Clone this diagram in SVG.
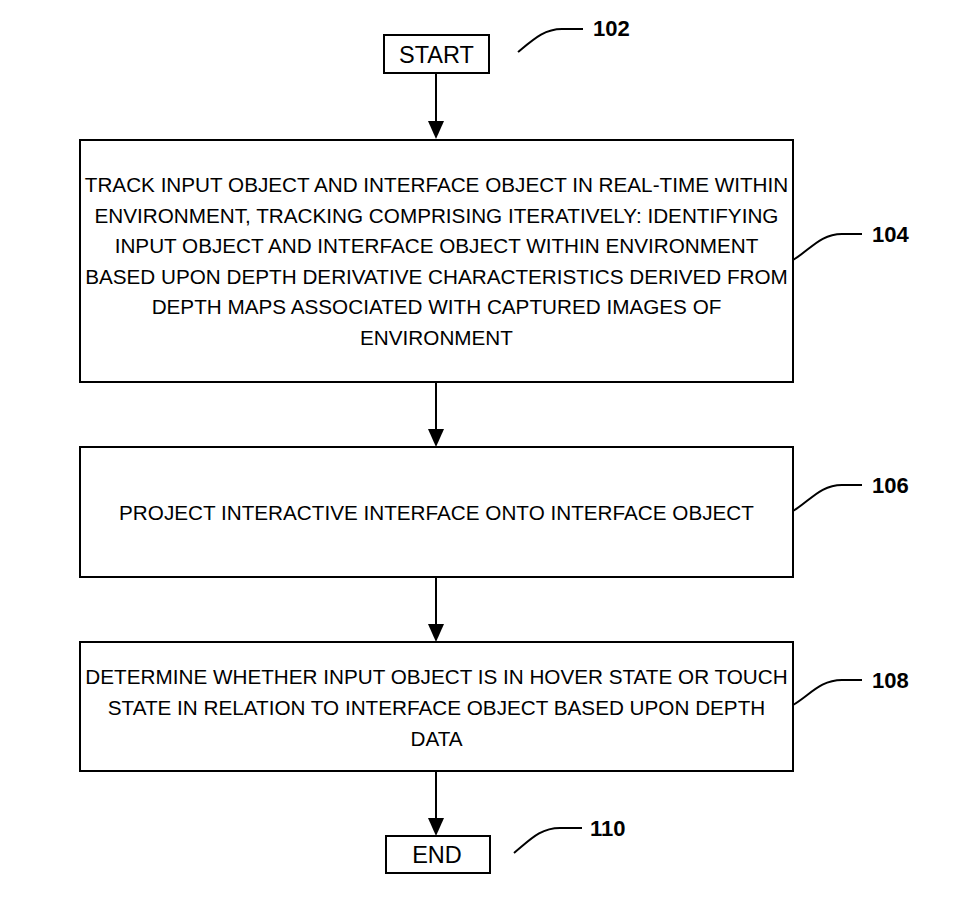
<svg xmlns="http://www.w3.org/2000/svg" width="961" height="915" viewBox="0 0 961 915">
<defs>
<style>
.box{fill:#fff;stroke:#000;stroke-width:2}
.t{font-family:"Liberation Sans",Arial,sans-serif;font-size:20.7px;fill:#000;text-anchor:middle}
.term{font-family:"Liberation Sans",Arial,sans-serif;font-size:23.5px;fill:#000;text-anchor:middle}
.lbl{font-family:"Liberation Sans",Arial,sans-serif;font-size:22px;font-weight:bold;fill:#000}
.lead{fill:none;stroke:#000;stroke-width:2}
.conn{stroke:#000;stroke-width:2;fill:none}
</style>
</defs>
<rect width="961" height="915" fill="#fff"/>
<g id="connectors">
<line class="conn" x1="436" y1="73" x2="436" y2="122"/>
<path d="M428,121 L444,121 L436,139 Z"/>
<line class="conn" x1="436" y1="382" x2="436" y2="430"/>
<path d="M428,429 L444,429 L436,447 Z"/>
<line class="conn" x1="436" y1="577" x2="436" y2="625"/>
<path d="M428,624 L444,624 L436,642 Z"/>
<line class="conn" x1="436" y1="771" x2="436" y2="819"/>
<path d="M428,818 L444,818 L436,836 Z"/>
</g>
<g id="n102">
<rect class="box" x="384" y="35" width="105" height="38"/>
<text class="term" x="436.5" y="63">START</text>
<path class="lead" d="M518,52 C535,38 545,29 562,29 L583,29"/>
<text class="lbl" x="593" y="36">102</text>
</g>
<g id="n104">
<rect class="box" x="80" y="140" width="713" height="242"/>
<text class="t" x="436.5" y="192">TRACK INPUT OBJECT AND INTERFACE OBJECT IN REAL-TIME WITHIN</text>
<text class="t" x="436.5" y="223">ENVIRONMENT, TRACKING COMPRISING ITERATIVELY: IDENTIFYING</text>
<text class="t" x="436.5" y="253">INPUT OBJECT AND INTERFACE OBJECT WITHIN ENVIRONMENT</text>
<text class="t" x="436.5" y="284">BASED UPON DEPTH DERIVATIVE CHARACTERISTICS DERIVED FROM</text>
<text class="t" x="436.5" y="314">DEPTH MAPS ASSOCIATED WITH CAPTURED IMAGES OF</text>
<text class="t" x="436.5" y="345">ENVIRONMENT</text>
<path class="lead" d="M793,260 C810,250 820,234 842,234 L862,234"/>
<text class="lbl" x="872" y="242">104</text>
</g>
<g id="n106">
<rect class="box" x="80" y="447" width="713" height="130"/>
<text class="t" x="436.5" y="520">PROJECT INTERACTIVE INTERFACE ONTO INTERFACE OBJECT</text>
<path class="lead" d="M793,511 C810,501 820,485 842,485 L862,485"/>
<text class="lbl" x="872" y="493">106</text>
</g>
<g id="n108">
<rect class="box" x="80" y="642" width="713" height="129"/>
<text class="t" x="436.5" y="684">DETERMINE WHETHER INPUT OBJECT IS IN HOVER STATE OR TOUCH</text>
<text class="t" x="436.5" y="715">STATE IN RELATION TO INTERFACE OBJECT BASED UPON DEPTH</text>
<text class="t" x="436.5" y="746">DATA</text>
<path class="lead" d="M793,705 C810,695 820,680 842,680 L862,680"/>
<text class="lbl" x="872" y="688">108</text>
</g>
<g id="n110">
<rect class="box" x="386" y="836" width="104" height="37"/>
<text class="term" x="437" y="863">END</text>
<path class="lead" d="M514,853 C530,840 540,828 560,828 L582,828"/>
<text class="lbl" x="590" y="836">110</text>
</g>
</svg>
